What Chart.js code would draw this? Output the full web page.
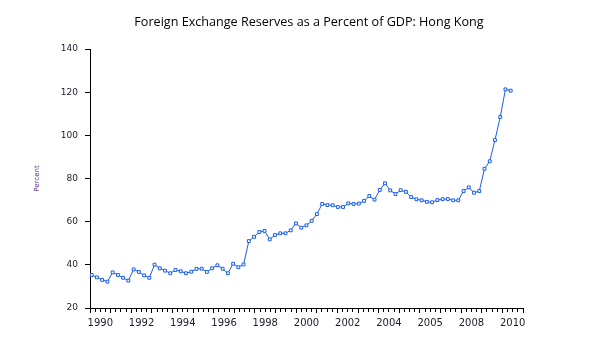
<!DOCTYPE html>
<html>
<head>
<meta charset="utf-8">
<script src="https://cdn.jsdelivr.net/npm/chart.js@4/dist/chart.umd.min.js"></script>
<style>
  html, body { margin: 0; padding: 0; background: #ffffff; }
  #wrap { width: 598px; height: 348px; }
</style>
</head>
<body>
<div id="wrap"><canvas id="c" width="598" height="348"></canvas></div>
<script>
// Quarterly observations, 1990Q1 .. 2010Q1
const quarters = [
  '1990Q1','1990Q2','1990Q3','1990Q4','1991Q1','1991Q2','1991Q3','1991Q4',
  '1992Q1','1992Q2','1992Q3','1992Q4','1993Q1','1993Q2','1993Q3','1993Q4',
  '1994Q1','1994Q2','1994Q3','1994Q4','1995Q1','1995Q2','1995Q3','1995Q4',
  '1996Q1','1996Q2','1996Q3','1996Q4','1997Q1','1997Q2','1997Q3','1997Q4',
  '1998Q1','1998Q2','1998Q3','1998Q4','1999Q1','1999Q2','1999Q3','1999Q4',
  '2000Q1','2000Q2','2000Q3','2000Q4','2001Q1','2001Q2','2001Q3','2001Q4',
  '2002Q1','2002Q2','2002Q3','2002Q4','2003Q1','2003Q2','2003Q3','2003Q4',
  '2004Q1','2004Q2','2004Q3','2004Q4','2005Q1','2005Q2','2005Q3','2005Q4',
  '2006Q1','2006Q2','2006Q3','2006Q4','2007Q1','2007Q2','2007Q3','2007Q4',
  '2008Q1','2008Q2','2008Q3','2008Q4','2009Q1','2009Q2','2009Q3','2009Q4',
  '2010Q1'
];
const reservesPctGDP = [
  35.3, 34.2, 33.0, 32.2, 36.5, 35.3, 34.0, 32.7,
  37.9, 36.7, 35.1, 34.0, 40.1, 38.4, 37.3, 36.1,
  37.6, 37.0, 36.1, 36.8, 38.1, 38.2, 36.7, 38.4,
  39.8, 38.2, 36.1, 40.5, 38.9, 40.2, 51.0, 53.0,
  55.2, 55.7, 51.8, 53.8, 54.6, 54.6, 56.0, 59.2,
  57.2, 58.3, 60.4, 63.5, 68.2, 67.7, 67.6, 66.8,
  66.8, 68.5, 68.2, 68.4, 69.6, 71.9, 70.2, 74.7,
  77.8, 74.5, 72.8, 74.6, 73.8, 71.4, 70.4, 69.9,
  69.2, 69.0, 70.0, 70.4, 70.5, 69.9, 69.9, 74.2,
  75.9, 73.4, 74.2, 84.5, 88.0, 97.8, 108.5, 121.3,
  120.7
];
// x-axis labels (as printed in the original), one per two-year slot
const yearTickLabels = ['1990','1992','1994','1996','1998','2000','2002','2004','2005','2008','2010'];
const yTicks = [20, 40, 60, 80, 100, 120, 140];
const axisStartYear = 1990;
const axisEndYear = 2011;

const lineBlue = '#1a5ee8';

const chart = new Chart(document.getElementById('c'), {
  type: 'line',
  data: {
    datasets: [{
      label: 'Foreign Exchange Reserves (% of GDP)',
      data: reservesPctGDP.map((v, i) => ({ x: i, y: v, q: quarters[i] })),
      xAxisID: 'xd',
      yAxisID: 'y',
      borderColor: lineBlue,
      borderWidth: 1,
      backgroundColor: '#ffffff',
      pointStyle: 'rect',
      pointRadius: 2,
      pointBorderWidth: 1,
      pointBorderColor: lineBlue,
      pointBackgroundColor: '#ffffff',
      tension: 0,
      fill: false
    }]
  },
  options: {
    responsive: false,
    animation: false,
    devicePixelRatio: 1,
    events: [],
    layout: { padding: { left: 20, right: 0, top: 0, bottom: 0 } },
    plugins: {
      legend: { display: false },
      tooltip: { enabled: false },
      title: {
        display: true,
        text: 'Foreign Exchange Reserves as a Percent of GDP: Hong Kong',
        color: '#000000',
        font: { family: 'Open Sans', size: 12.6, weight: 'normal', lineHeight: 1.2 },
        padding: { top: 14.5, bottom: 19.4 }
      }
    },
    scales: {
      xd: {
        type: 'linear',
        display: false,
        position: 'bottom',
        min: -0.325,
        max: 82.35
      },
      x: {
        type: 'linear',
        position: 'bottom',
        min: axisStartYear,
        max: axisEndYear,
        afterBuildTicks: (scale) => {
          const t = [];
          for (let k = 0; k <= (axisEndYear - axisStartYear) * 4; k++) {
            t.push({ value: axisStartYear + k / 4 });
          }
          scale.ticks = t;
        },
        afterFit: (scale) => { scale.height = 40; },
        grid: {
          display: true,
          drawOnChartArea: false,
          drawTicks: true,
          tickLength: 5,
          tickWidth: 1,
          tickColor: '#000000',
          tickBorderDash: (ctx) => (ctx.tick && ctx.tick.value % 1 === 0) ? [] : [3, 20]
        },
        border: { display: true, color: '#000000', width: 1 },
        ticks: {
          autoSkip: false,
          maxRotation: 0,
          minRotation: 0,
          padding: 4,
          color: '#1c1c2c',
          font: { family: 'DejaVu Sans', size: 10 },
          callback: (value) => {
            const off = value - axisStartYear - 0.5;
            if (off >= 0 && off % 2 === 0) {
              const k = off / 2;
              return yearTickLabels[k] !== undefined ? yearTickLabels[k] : '';
            }
            return '';
          }
        }
      },
      y: {
        type: 'linear',
        position: 'left',
        min: 20,
        max: 140,
        afterBuildTicks: (scale) => { scale.ticks = yTicks.map(v => ({ value: v })); },
        afterFit: (scale) => { scale.width = 70; },
        grid: {
          display: true,
          drawOnChartArea: false,
          drawTicks: true,
          tickLength: 5,
          tickColor: '#000000'
        },
        border: { display: true, color: '#000000', width: 1 },
        ticks: {
          padding: 7,
          color: '#1c1c2c',
          font: { family: 'DejaVu Sans', size: 9 }
        },
        title: {
          display: true,
          text: 'Percent',
          color: '#5b2a86',
          font: { family: 'DejaVu Sans', size: 7 },
          padding: { top: 13, bottom: 0 }
        }
      },
      yr: {
        type: 'linear',
        position: 'right',
        display: true,
        afterFit: (scale) => { scale.width = 75; },
        grid: { display: false, drawTicks: false },
        border: { display: false },
        ticks: { display: false }
      }
    }
  }
});
</script>
</body>
</html>
